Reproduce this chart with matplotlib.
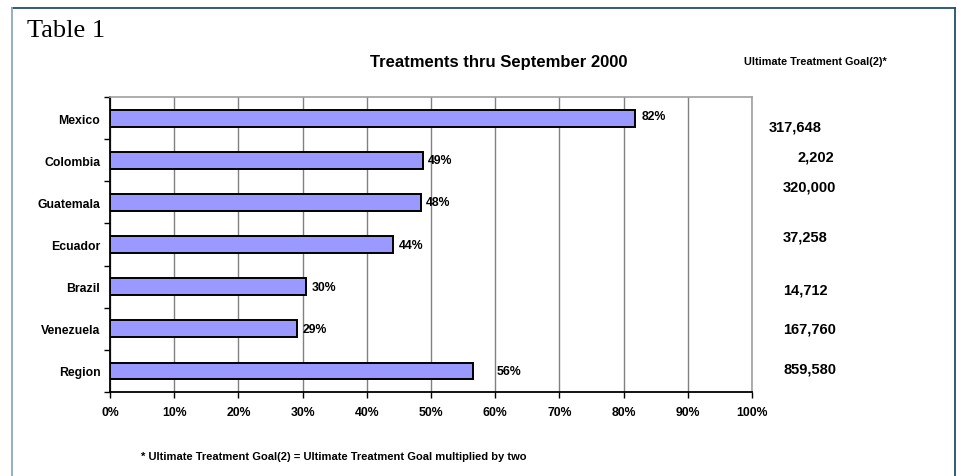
import numpy as np
import matplotlib
matplotlib.use('Agg')
import matplotlib.pyplot as plt
from matplotlib.lines import Line2D

plt.rcParams['font.family'] = ['Liberation Sans', 'DejaVu Sans']

# data
countries = ['Mexico', 'Colombia', 'Guatemala', 'Ecuador', 'Brazil', 'Venezuela', 'Region']
pct_done = [81.8, 48.7, 48.5, 44.1, 30.5, 29.2, 56.6]
pct_labels = ['82%', '49%', '48%', '44%', '30%', '29%', '56%']
goal2 = [317648, 2202, 320000, 37258, 14712, 167760, 859580]
xticks = list(range(0, 101, 10))

W, H = 961, 477
fig = plt.figure(figsize=(W / 100, H / 100), dpi=100)

def fx(px):
    return px / W

def fy(py):
    return 1 - py / H

# outer frame (open at the bottom)
fig.add_artist(Line2D([fx(12), fx(955)], [fy(8.5), fy(8.5)], color='#1f506c', lw=1.3))
fig.add_artist(Line2D([fx(955), fx(955)], [fy(8.5), 0], color='#1f506c', lw=1.3))
fig.add_artist(Line2D([fx(12), fx(12)], [fy(8.5), 0], color='#8fa9b8', lw=1.3))

fig.text(fx(27), fy(37), 'Table 1', family='Liberation Serif', fontsize=19, va='baseline', ha='left')
fig.text(fx(499), fy(62), 'Treatments thru September 2000', fontsize=12, weight='bold',
         ha='center', va='center')
fig.text(fx(815), fy(62), 'Ultimate Treatment Goal(2)*', fontsize=7.8, weight='bold',
         ha='center', va='center')

ax = fig.add_axes([fx(110), fy(393), fx(752) - fx(110), fy(98) - fy(393)])
y = np.arange(len(countries))
ax.barh(y, pct_done, height=0.4, color='#9999ff', edgecolor='black', linewidth=1.4, zorder=3)

ax.set_xlim(0, 100)
ax.set_ylim(len(countries) - 0.5, -0.5)
ax.set_xticks(xticks)
ax.set_xticklabels(['{}%'.format(t) for t in xticks], fontsize=8.8, weight='bold')
ax.set_yticks(y)
ax.set_yticklabels(countries, fontsize=8.8, weight='bold')
ax.set_yticks(np.arange(len(countries) + 1) - 0.5, minor=True)
ax.tick_params(axis='y', which='major', length=0, pad=7)
ax.tick_params(axis='y', which='minor', length=4, width=1, direction='out')
ax.tick_params(axis='x', length=4, width=1, direction='out', pad=6)
ax.grid(axis='x', color='#808080', lw=1, zorder=0)
for s in ['top', 'right']:
    ax.spines[s].set_color('#a0a0a0')
    ax.spines[s].set_linewidth(1.2)
for s in ['left', 'bottom']:
    ax.spines[s].set_color('black')
    ax.spines[s].set_linewidth(1.3)

# percent labels beside bars
label_dx = [6, 5, 5, 6, 6, 5, 23]
label_dy = [2, 0, 0, 0, 0, 0, 0]
for i, (v, lab) in enumerate(zip(pct_done, pct_labels)):
    ax.annotate(lab, (v, i), xytext=(label_dx[i] * 0.72, label_dy[i] * 0.72),
                textcoords='offset points', fontsize=8.8, weight='bold',
                ha='left', va='center')

# ultimate goal column
goal_x = [769, 797, 783, 783, 783, 783, 783]
goal_y = [127, 158, 188, 238, 291, 330, 370]
for g, gx, gy in zip(goal2, goal_x, goal_y):
    fig.text(fx(gx), fy(gy), '{:,}'.format(g), fontsize=10.5, weight='bold',
             ha='left', va='center')

fig.text(fx(141), fy(457), '* Ultimate Treatment Goal(2) = Ultimate Treatment Goal multiplied by two',
         fontsize=8, weight='bold', ha='left', va='center')

fig.savefig('out.png', dpi=100)
